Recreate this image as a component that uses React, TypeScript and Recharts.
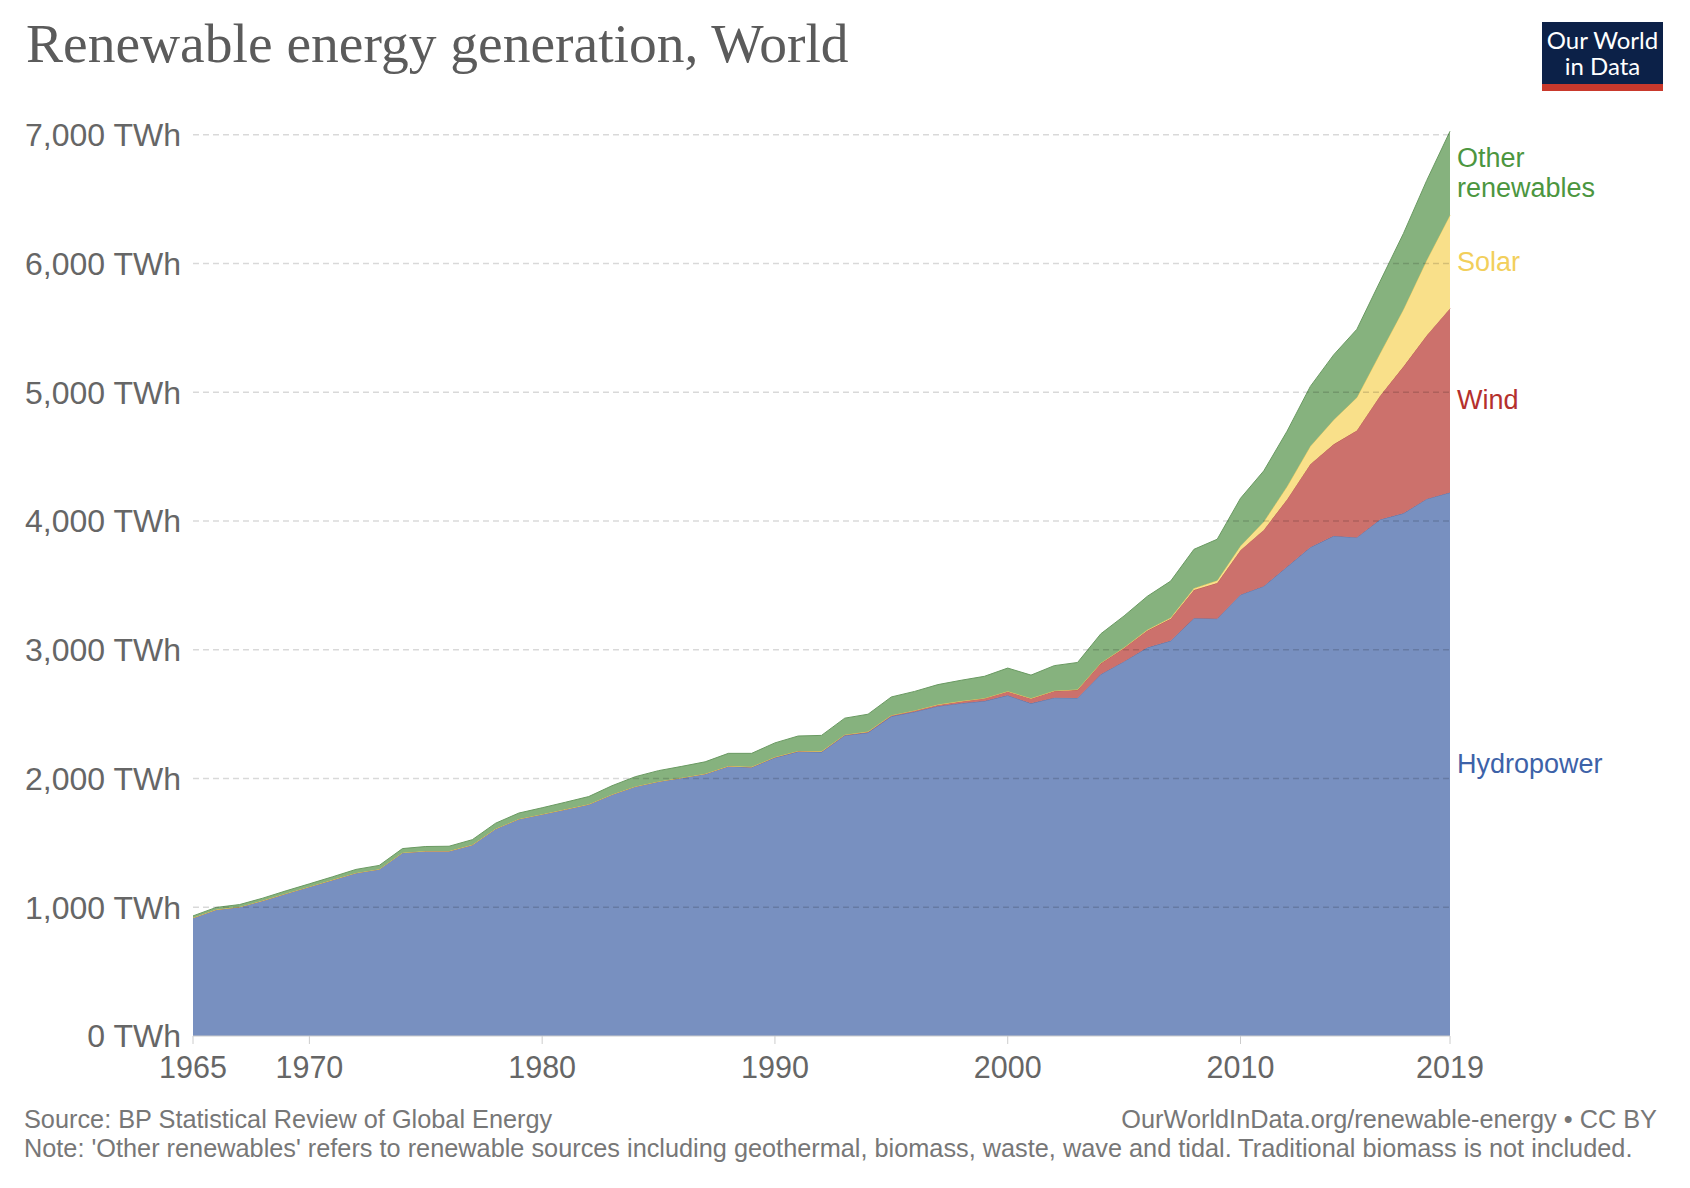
import React from 'react'
import {
  AreaChart,
  Area,
  XAxis,
  YAxis,
  ReferenceLine,
  ReferenceDot,
} from 'recharts'

// values in TWh
const years = [
  1965, 1966, 1967, 1968, 1969, 1970, 1971, 1972, 1973, 1974,
  1975, 1976, 1977, 1978, 1979, 1980, 1981, 1982, 1983, 1984,
  1985, 1986, 1987, 1988, 1989, 1990, 1991, 1992, 1993, 1994,
  1995, 1996, 1997, 1998, 1999, 2000, 2001, 2002, 2003, 2004,
  2005, 2006, 2007, 2008, 2009, 2010, 2011, 2012, 2013, 2014,
  2015, 2016, 2017, 2018, 2019,
]

const hydropower = [
  918, 982, 1003, 1052, 1107, 1160, 1213, 1267, 1296, 1424,
  1437, 1437, 1485, 1610, 1686, 1723, 1761, 1800, 1876, 1938,
  1977, 2006, 2036, 2095, 2088, 2163, 2210, 2206, 2335, 2357,
  2483, 2519, 2562, 2585, 2602, 2646, 2584, 2628, 2626, 2810,
  2910, 3017, 3070, 3245, 3242, 3428, 3494, 3645, 3796, 3884,
  3873, 4012, 4060, 4172, 4222,
]

const wind = [
  0, 0, 0, 0, 0, 0, 0, 0, 0, 0,
  0, 0, 0, 0, 0, 0, 0, 0, 0.1, 0.2,
  0.4, 0.6, 0.9, 1.6, 2.6, 3.6, 4.1, 4.7, 5.6, 7.2,
  8.3, 9.2, 11.9, 15.6, 21.2, 31, 38, 52, 63, 85,
  104, 133, 171, 220, 277, 346, 437, 523, 646, 712,
  831, 962, 1140, 1270, 1430,
]

const solar = [
  0, 0, 0, 0, 0, 0, 0, 0, 0, 0,
  0, 0, 0, 0, 0, 0, 0, 0, 0, 0,
  0, 0, 0, 0, 0, 0.4, 0.4, 0.4, 0.5, 0.5,
  0.5, 0.6, 0.7, 0.8, 0.9, 1.1, 1.4, 2, 2.5, 3.4,
  4.5, 5.8, 7.8, 12.4, 20, 33, 64, 100, 139, 190,
  256, 329, 444, 584, 724,
]

const otherRenewables = [
  15, 17, 18, 19, 21, 22, 24, 27, 29, 32,
  35, 37, 40, 43, 46, 50, 55, 60, 68, 76,
  84, 88, 93, 99, 105, 110, 116, 124, 128, 135,
  142, 148, 155, 162, 170, 180, 180, 195, 210, 226,
  245, 260, 285, 303, 320, 370, 395, 430, 465, 505,
  530, 560, 590, 620, 652,
]

const xTicks = [1965, 1970, 1980, 1990, 2000, 2010, 2019]
const yTicks = [0, 1000, 2000, 3000, 4000, 5000, 6000, 7000]

const data = years.map((year, i) => ({
  year,
  hydropower: hydropower[i],
  wind: wind[i],
  solar: solar[i],
  other: otherRenewables[i],
}))

const series = [
  { key: 'hydropower', name: 'Hydropower', fill: '#7890c0', stroke: '#5b74ab', text: '#3d62a8' },
  { key: 'wind', name: 'Wind', fill: '#cc716c', stroke: '#b8524d', text: '#b5302d' },
  { key: 'solar', name: 'Solar', fill: '#f9e08a', stroke: '#eccb5a', text: '#f2cf5b' },
  { key: 'other', name: 'Other\nrenewables', fill: '#86b27e', stroke: '#6a9a62', text: '#4c963f' },
]

const SANS = '"Liberation Sans", Arial, Helvetica, sans-serif'

// label at the middle of each band at the last year
const last = data[data.length - 1]
let running = 0
const endLabels = series.map(s => {
  const v = (last as any)[s.key] as number
  const mid = running + v / 2
  running += v
  return { ...s, mid }
})

function EndLabel({ viewBox, lines, color }: any) {
  const x = viewBox.x + 8
  const y = viewBox.y
  const lh = 30
  const start = y - ((lines.length - 1) * lh) / 2
  return (
    <text fontFamily={SANS} fontSize={27} fill={color}>
      {lines.map((l: string, i: number) => (
        <tspan key={i} x={x} y={start + i * lh} dy="0.36em">{l}</tspan>
      ))}
    </text>
  )
}

const fmtY = (v: number) => `${v.toLocaleString('en-US')} TWh`

export default function App() {
  return (
    <div style={{ position: 'absolute', left: 0, top: 0, width: 1690, height: 1188, background: '#fff' }}>
      <AreaChart
        width={1690}
        height={1188}
        data={data}
        margin={{ top: 122, right: 240, bottom: 112, left: 0 }}
      >
        <XAxis
          dataKey="year"
          type="number"
          domain={[1965, 2019]}
          ticks={xTicks}
          height={40}
          tickSize={8}
          tickMargin={12}
          axisLine={{ stroke: '#cccccc' }}
          tickLine={{ stroke: '#cccccc' }}
          tick={{ fill: '#666666', fontSize: 30.5, fontFamily: SANS }}
        />
        <YAxis
          type="number"
          domain={[0, 7100]}
          ticks={yTicks}
          width={193}
          tickSize={0}
          tickMargin={12}
          axisLine={false}
          tickLine={false}
          tickFormatter={fmtY}
          tick={{ fill: '#666666', fontSize: 32, fontFamily: SANS }}
        />
        {series.map(s => (
          <Area
            key={s.key}
            type="linear"
            dataKey={s.key}
            name={s.name}
            stackId="1"
            fill={s.fill}
            fillOpacity={1}
            stroke={s.stroke}
            strokeWidth={1}
            isAnimationActive={false}
          />
        ))}
        {yTicks.filter(t => t > 0).map(t => (
          <ReferenceLine
            key={t}
            y={t}
            stroke="#000000"
            strokeOpacity={0.15}
            strokeWidth={1.5}
            strokeDasharray="6 4"
          />
        ))}
        {endLabels.map(l => (
          <ReferenceDot
            key={l.key}
            x={2019}
            y={l.mid}
            r={1}
            fill="none"
            stroke="none"
            ifOverflow="visible"
            label={{ content: (p: any) => <EndLabel {...p} lines={l.name.split('\n')} color={l.text} /> }}
          />
        ))}
      </AreaChart>

      <svg
        width={1690}
        height={1188}
        style={{ position: 'absolute', left: 0, top: 0, pointerEvents: 'none' }}
      >
        <text x={26} y={62} fontFamily='"Liberation Serif", "Times New Roman", serif' fontSize={55.5} fill="#5b5b5b">
          Renewable energy generation, World
        </text>

        <rect x={1542} y={22} width={121} height={62} fill="#0c2148" />
        <rect x={1542} y={84} width={121} height={7} fill="#c9392c" />
        <text x={1602.5} y={49} textAnchor="middle" fontFamily="Lato, sans-serif" fontSize={24} fill="#ffffff">Our World</text>
        <text x={1602.5} y={75} textAnchor="middle" fontFamily="Lato, sans-serif" fontSize={24} fill="#ffffff">in Data</text>

        <text x={24} y={1128} fontFamily={SANS} fontSize={25.3} fill="#777777">
          Source: BP Statistical Review of Global Energy
        </text>
        <text x={1657} y={1128} textAnchor="end" fontFamily={SANS} fontSize={25.3} fill="#777777">
          OurWorldInData.org/renewable-energy • CC BY
        </text>
        <text x={24} y={1157} fontFamily={SANS} fontSize={25.3} fill="#777777">
          Note: 'Other renewables' refers to renewable sources including geothermal, biomass, waste, wave and tidal. Traditional biomass is not included.
        </text>
      </svg>
    </div>
  )
}
